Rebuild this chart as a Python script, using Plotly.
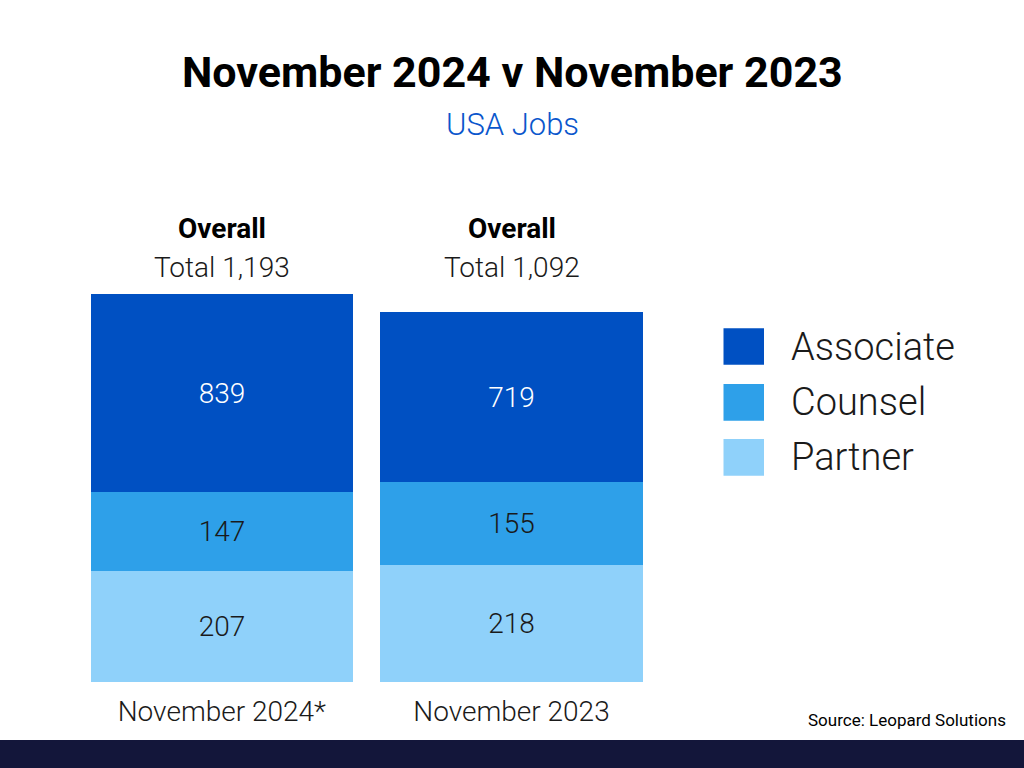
import plotly.graph_objects as go

# ---- data ----
categories = ["November 2024*", "November 2023"]
associate = [839, 719]
counsel = [147, 155]
partner = [207, 218]
totals = [1193, 1092]
# the source chart compresses the Associate segment; visible heights
associate_drawn = [367, 315]
series_names = ["Associate", "Counsel", "Partner"]
series_colors = ["#0050c2", "#2ea0e9", "#8fd1fa"]

title = "November 2024 v November 2023"
subtitle = "USA Jobs"
source = "Source: Leopard Solutions"

W, H = 1024, 768
FONT = "Roboto"
DARK = "#1a1a1a"

def px(x):
    return x / W

def py(y):
    return 1 - y / H

xpos = [0, 1]
fig = go.Figure()
fig.add_bar(x=xpos, y=partner, name=series_names[2], marker_color=series_colors[2],
            text=[str(v) for v in partner], textposition="inside", insidetextanchor="middle",
            textfont=dict(family=FONT, size=28, color=DARK, weight=300))
fig.add_bar(x=xpos, y=counsel, name=series_names[1], marker_color=series_colors[1],
            text=[str(v) for v in counsel], textposition="inside", insidetextanchor="middle",
            textfont=dict(family=FONT, size=28, color=DARK, weight=300))
fig.add_bar(x=xpos, y=associate_drawn, name=series_names[0], marker_color=series_colors[0],
            text=[str(v) for v in associate], textposition="inside", insidetextanchor="middle",
            textfont=dict(family=FONT, size=28, color="white", weight=300))
fig.update_traces(width=0.906, marker_line_width=0, showlegend=False, constraintext="none",
                  textangle=0, hoverinfo="skip")

annotations = [
    dict(text="<b>" + title + "</b>", x=0.5, y=py(72), xref="paper", yref="paper",
         showarrow=False, xanchor="center", yanchor="middle",
         font=dict(family=FONT, size=43, color="#000000")),
    dict(text=subtitle, x=0.5, y=py(124), xref="paper", yref="paper",
         showarrow=False, xanchor="center", yanchor="middle",
         font=dict(family=FONT, size=31, color="#0a56cc", weight=300)),
    dict(text=source, x=px(1008), y=py(720), xref="paper", yref="paper",
         showarrow=False, xanchor="right", yanchor="middle",
         font=dict(family=FONT, size=17, color="#000000")),
]
for i, t in enumerate(totals):
    annotations.append(dict(text="<b>Overall</b>", x=xpos[i], y=py(228), xref="x", yref="paper",
                            showarrow=False, xanchor="center", yanchor="middle",
                            font=dict(family=FONT, size=28, color="#000000")))
    annotations.append(dict(text=f"Total {t:,}", x=xpos[i], y=py(268), xref="x", yref="paper",
                            showarrow=False, xanchor="center", yanchor="middle",
                            font=dict(family=FONT, size=28, color=DARK, weight=300)))

# legend (drawn manually for large swatches)
legend_rows = [(328.3, 364.7), (384, 420.7), (439, 475.7)]
shapes = []
for (y0, y1), name, col in zip(legend_rows, series_names, series_colors):
    shapes.append(dict(type="rect", xref="paper", yref="paper", x0=px(723.5), x1=px(764),
                       y0=py(y1), y1=py(y0), fillcolor=col, line_width=0))
    annotations.append(dict(text=name, x=px(789), y=py((y0 + y1) / 2), xref="paper", yref="paper",
                            showarrow=False, xanchor="left", yanchor="middle",
                            font=dict(family=FONT, size=38, color=DARK, weight=300)))
# bottom band
shapes.append(dict(type="rect", xref="paper", yref="paper", x0=0, x1=1, y0=0, y1=28 / H,
                   fillcolor="#13163a", line_width=0, layer="above"))

fig.update_layout(
    width=W, height=H, margin=dict(l=0, r=0, t=0, b=0),
    paper_bgcolor="white", plot_bgcolor="white",
    barmode="stack", bargap=0,
    annotations=annotations, shapes=shapes, showlegend=False,
    xaxis=dict(range=[-221.85 / 289.65, (W - 221.85) / 289.65], domain=[0, 1],
               tickvals=xpos, ticktext=categories, showgrid=False, zeroline=False,
               showline=False, ticks="", tickfont=dict(family=FONT, size=28, color=DARK, weight=300),
               ticklabelstandoff=10, fixedrange=True),
    yaxis=dict(range=[0, 682 / 0.5375], domain=[86 / H, 1], visible=False, fixedrange=True),
)

fig.write_html("out.html", config={"displayModeBar": False},
               post_script="document.body.style.margin='0';document.body.style.overflow='hidden';")
